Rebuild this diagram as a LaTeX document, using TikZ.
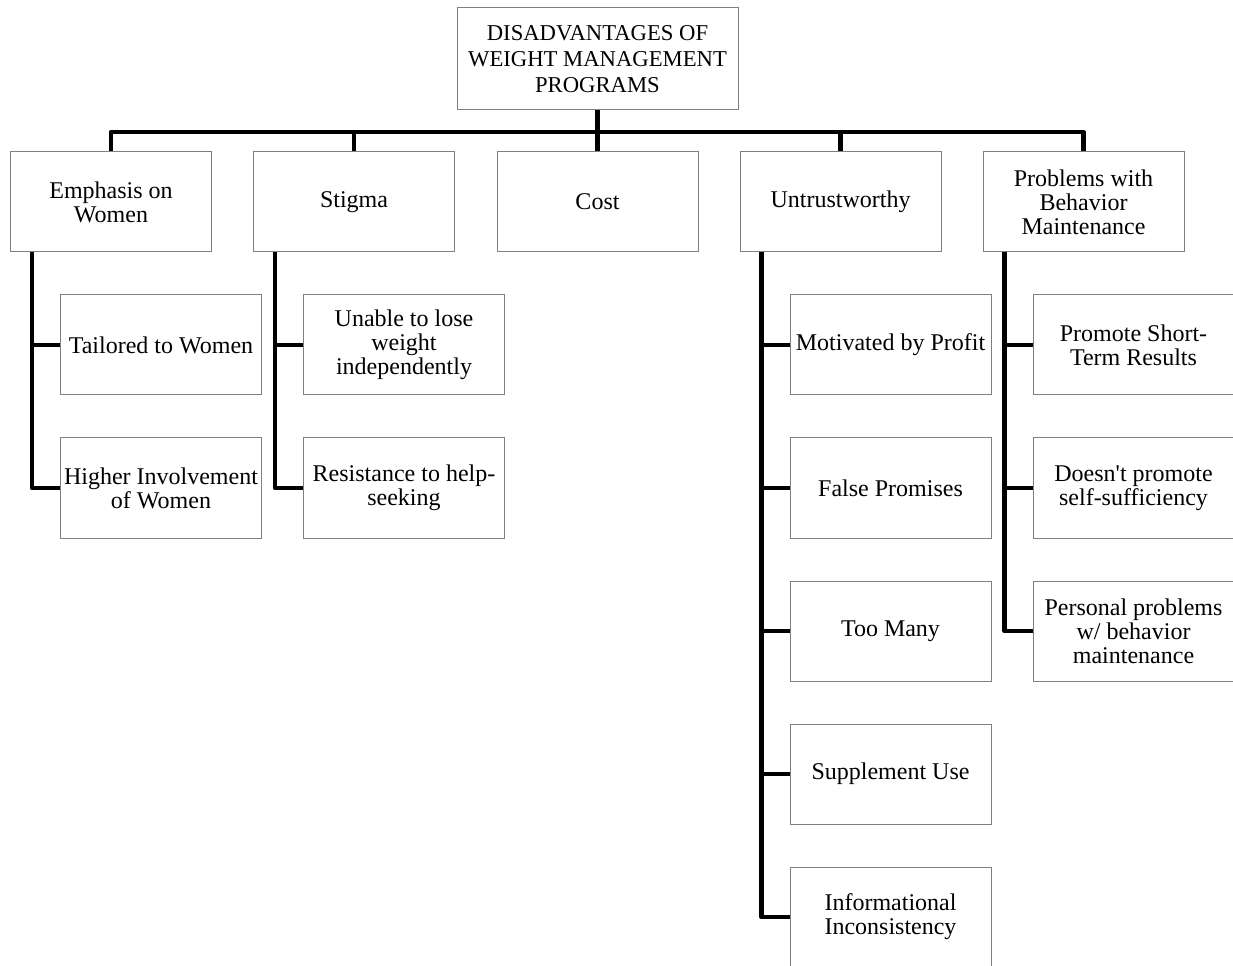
\documentclass[tikz,border=0pt]{standalone}
\usepackage{fontspec}
\setmainfont{Liberation Serif}
\begin{document}
\begin{tikzpicture}[x=0.75pt, y=-0.75pt,
  box/.style={draw=gray, line width=0.75pt, minimum width=150.75pt, minimum height=75pt,
    align=center, inner sep=1pt, font=\fontsize{18}{18}\selectfont},
  link/.style={line width=3.4pt, line join=round}]
\useasboundingbox (0,0) rectangle (1233,966);
% root and first level
\node[box, minimum width=210.75pt, minimum height=76.5pt, font=\fontsize{17}{19.5}\selectfont]
  (top) at (597.5,59) {DISADVANTAGES OF\\WEIGHT MANAGEMENT\\PROGRAMS};
\node[box] (emph) at (111,202) {Emphasis on\\Women};
\node[box] (stig) at (354,202) {Stigma};
\node[box] (cost) at (597.5,202) {Cost};
\node[box] (untr) at (840.5,202) {Untrustworthy};
\node[box] (prob) at (1083.5,202) {Problems with\\Behavior\\Maintenance};
\coordinate (bus) at (597.5,132);
\draw[link] (top.south) -- (bus);
\draw[link] (emph.north) |- (bus) -| (prob.north);
\foreach \n in {stig,cost,untr} { \draw[link] (\n.north) -- (\n.north |- bus); }
% second level
\foreach \t [count=\i] in {Tailored to Women, {Higher Involvement\\of Women}}
  { \node[box] (emph\i) at (161,{345+143*(\i-1)}) {\t}; }
\foreach \t [count=\i] in {{Unable to lose\\weight\\independently}, {Resistance to help-\\seeking}}
  { \node[box] (stig\i) at (404,{345+143*(\i-1)}) {\t}; }
\foreach \t [count=\i] in {Motivated by Profit, False Promises, Too Many, Supplement Use,
    {Informational\\Inconsistency}}
  { \node[box] (untr\i) at (890.5,{345+143*(\i-1)}) {\t}; }
\foreach \t [count=\i] in {{Promote Short-\\Term Results}, {Doesn\textquotesingle t promote\\self-sufficiency},
    {Personal problems\\w/ behavior\\maintenance}}
  { \node[box] (prob\i) at (1133.5,{345+143*(\i-1)}) {\t}; }
% spines
\foreach \n/\k in {emph/2, stig/2, untr/5, prob/3} {
  \coordinate (\n spine) at ([xshift=16.5pt]\n.south west);
  \foreach \i in {1,...,\k} { \draw[link] (\n spine) |- (\n\i.west); }
}
\end{tikzpicture}
\end{document}
